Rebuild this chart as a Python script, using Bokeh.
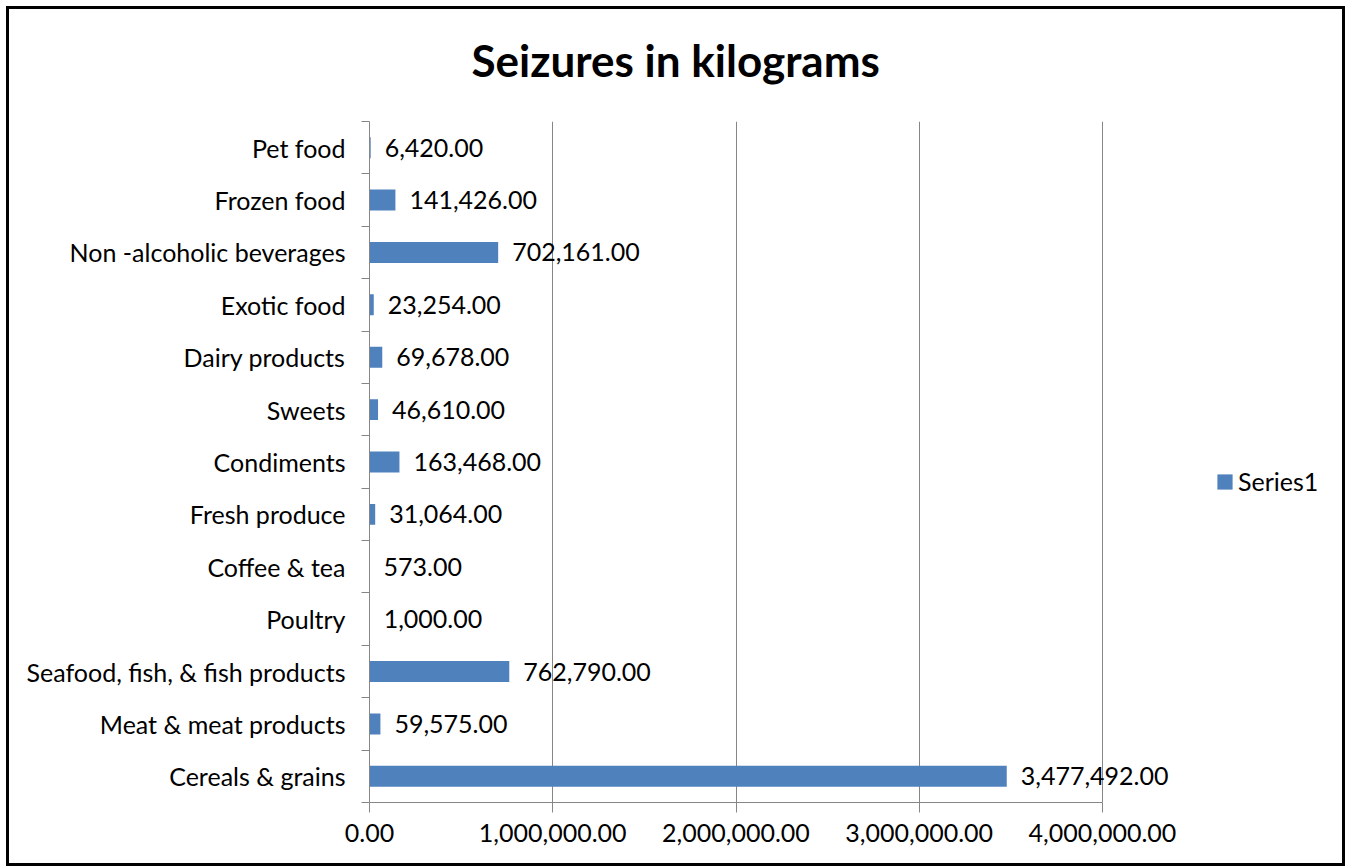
from bokeh.plotting import figure
from bokeh.models import (FixedTicker, LabelSet, ColumnDataSource,
                          NumeralTickFormatter, Range1d, Title)
from bokeh.embed import file_html
from bokeh.resources import INLINE
from bokeh.core.properties import value

# ---- data ----
categories = ["Cereals & grains", "Meat & meat products",
              "Seafood, fish, & fish products", "Poultry", "Coffee & tea",
              "Fresh produce", "Condiments", "Sweets", "Dairy products",
              "Exotic food", "Non -alcoholic beverages", "Frozen food",
              "Pet food"]
seizures_kg = [3477492, 59575, 762790, 1000, 573, 31064, 163468, 46610,
               69678, 23254, 702161, 141426, 6420]
x_ticks = [0, 1000000, 2000000, 3000000, 4000000]
title_text = "Seizures in kilograms"
series_name = "Series1"

FONT = "Lato"
GRAY = "#868686"
BLUE = "#4F81BD"
FS = "25px"

# ---- layout (canvas pixels) ----
W, H = 1339, 860
LEFT, TOP, BOTTOM = 360, 112, 67
FRAME_RIGHT = 1320          # frame extends past the last gridline (room for labels/legend)
AXIS_PX = 733               # pixel length of the 0..4,000,000 axis
frame_w = FRAME_RIGHT - LEFT
x_end = x_ticks[-1] * frame_w / AXIS_PX

positions = list(range(len(categories)))
src = ColumnDataSource(dict(
    y=positions,
    v=seizures_kg,
    label=[f"{v:,.2f}" for v in seizures_kg],
))

p = figure(width=W, height=H,
           x_range=Range1d(x_ticks[0], x_end),
           y_range=Range1d(-0.5, len(categories) - 0.5),
           output_backend="svg", toolbar_location=None,
           min_border_left=LEFT, min_border_right=W - FRAME_RIGHT,
           min_border_top=TOP, min_border_bottom=BOTTOM)
p.outline_line_color = None
p.background_fill_color = "white"
p.border_fill_color = "white"
p.styles = {"border": "3px solid black", "margin": "6px 0 0 6px"}

p.hbar(y="y", left=0, right="v", height=0.4, source=src,
       fill_color=BLUE, line_color=None, legend_label=series_name)

labels = LabelSet(x="v", y="y", text="label", source=src, x_offset=14,
                  text_baseline="middle", text_align="left",
                  text_font=value(FONT), text_font_size=FS,
                  text_color="black")
p.add_layout(labels)

# grid
p.ygrid.grid_line_color = None
p.xgrid.ticker = FixedTicker(ticks=x_ticks)
p.xgrid.grid_line_color = GRAY
p.xgrid.grid_line_width = 1

# x axis
xa = p.xaxis[0]
xa.ticker = FixedTicker(ticks=x_ticks)
xa.bounds = (x_ticks[0], x_ticks[-1])
xa.formatter = NumeralTickFormatter(format="0,0.00")
xa.axis_line_color = GRAY
xa.major_tick_line_color = GRAY
xa.major_tick_out = 10
xa.major_tick_in = 0
xa.minor_tick_line_color = None
xa.major_label_standoff = 11
xa.major_label_text_font = FONT
xa.major_label_text_font_size = FS
xa.major_label_text_color = "black"

# y axis
ya = p.yaxis[0]
ya.ticker = FixedTicker(ticks=positions,
                        minor_ticks=[i - 0.5 for i in range(len(categories) + 1)])
ya.major_label_overrides = {i: c for i, c in zip(positions, categories)}
ya.axis_line_color = GRAY
ya.major_tick_line_color = None
ya.major_tick_out = 0
ya.major_tick_in = 0
ya.minor_tick_line_color = GRAY
ya.minor_tick_out = 8
ya.minor_tick_in = 0
ya.major_label_standoff = 16
ya.major_label_text_font = FONT
ya.major_label_text_font_size = FS
ya.major_label_text_color = "black"

# title
title = Title(text=title_text, align="left", offset=102, standoff=58,
              text_font=FONT, text_font_size="44px",
              text_font_style="bold", text_color="black")
try:
    title.padding = dict(left=0, right=0, top=0, bottom=14)
    title.standoff = 44
except Exception:
    pass
p.add_layout(title, "above")

# legend
lg = p.legend[0]
lg.location = (846, 306)
lg.border_line_color = None
lg.background_fill_alpha = 0
lg.padding = 0
lg.margin = 0
lg.glyph_width = 19
lg.glyph_height = 19
lg.label_standoff = 4
lg.label_text_font = FONT
lg.label_text_font_size = FS
lg.label_text_color = "black"

open("out.html", "w").write(file_html(p, INLINE))
